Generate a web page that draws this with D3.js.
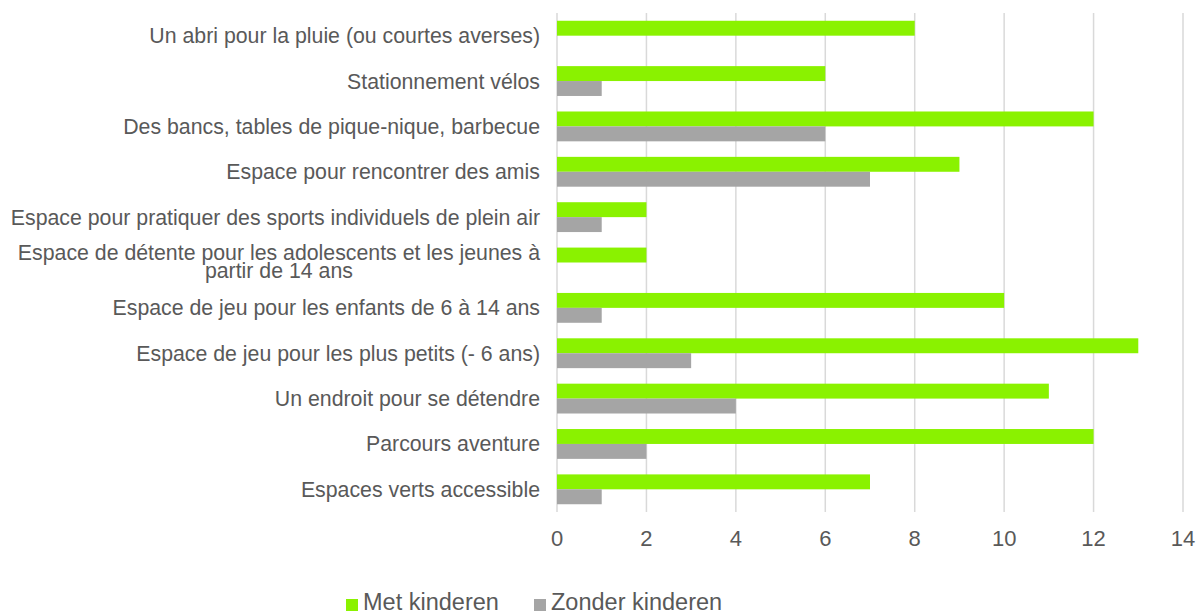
<!DOCTYPE html>
<html>
<head>
<meta charset="utf-8">
<script src="https://cdn.jsdelivr.net/npm/d3@7"></script>
<style>
  body { margin: 0; background: #fff; }
  svg { font-family: "Liberation Sans", Arial, sans-serif; }
</style>
</head>
<body>
<div id="chart"></div>
<script>
const categories = [
  'Un abri pour la pluie (ou courtes averses)',
  'Stationnement vélos',
  'Des bancs, tables de pique-nique, barbecue',
  'Espace pour rencontrer des amis',
  'Espace pour pratiquer des sports individuels de plein air',
  'Espace de détente pour les adolescents et les jeunes à|partir de 14 ans',
  'Espace de jeu pour les enfants de 6 à 14 ans',
  'Espace de jeu pour les plus petits (- 6 ans)',
  'Un endroit pour se détendre',
  'Parcours aventure',
  'Espaces verts accessible'
]
const metKinderen = [8, 6, 12, 9, 2, 2, 10, 13, 11, 12, 7]
const zonderKinderen = [0, 1, 6, 7, 1, 0, 1, 3, 4, 2, 1]
const seriesNames = ['Met kinderen', 'Zonder kinderen']
const colors = ['#8af200', '#a5a5a5']
const xTicks = [0, 2, 4, 6, 8, 10, 12, 14]

const width = 1198, height = 615
const margin = { top: 13, right: 15, bottom: 105, left: 557 }
const textColor = '#595959'

const svg = d3.select('#chart').append('svg')
    .attr('width', width)
    .attr('height', height)

const x = d3.scaleLinear()
    .domain([0, 14])
    .range([margin.left, 1183])

const y = d3.scaleBand()
    .domain(categories)
    .range([margin.top, height - margin.bottom + 2])
    .paddingInner(0)
    .paddingOuter(0)

const sub = d3.scaleBand()
    .domain(seriesNames)
    .range([0, y.bandwidth()])
    .paddingInner(0)
    .paddingOuter(0.52)

// gridlines
svg.append('g')
  .selectAll('line')
    .data(xTicks)
  .enter().append('line')
    .attr('x1', d => x(d))
    .attr('x2', d => x(d))
    .attr('y1', y.range()[0])
    .attr('y2', y.range()[1])
    .attr('stroke', '#d9d9d9')
    .attr('stroke-width', 1.5)

// tick labels
svg.append('g')
  .selectAll('text')
    .data(xTicks)
  .enter().append('text')
    .attr('x', d => x(d))
    .attr('y', 546)
    .attr('text-anchor', 'middle')
    .style('font-size', '22px')
    .style('fill', textColor)
    .text(d => d)

// bars
const series = [metKinderen, zonderKinderen]
series.forEach((vals, si) => {
  svg.append('g')
    .selectAll('rect')
      .data(vals)
    .enter().append('rect')
      .attr('x', x(0))
      .attr('y', (d, i) => y(categories[i]) + sub(seriesNames[si]))
      .attr('width', d => x(d) - x(0))
      .attr('height', sub.bandwidth())
      .attr('fill', colors[si])
})

// category labels
const labels = svg.append('g')
  .selectAll('text')
    .data(categories)
  .enter().append('text')
    .attr('y', d => y(d) + y.bandwidth() / 2)
    .style('font-size', '21.3px')
    .style('fill', textColor)

labels.each(function(d) {
  const lines = d.split('|')
  const t = d3.select(this)
  if (lines.length === 1) {
    t.attr('x', 540).attr('text-anchor', 'end').attr('dy', '0.35em').text(d)
    return
  }
  // wrapped label: block right-aligned, lines centred on each other
  const spans = lines.map(l => t.append('tspan').text(l))
  const maxW = d3.max(spans, s => s.node().getComputedTextLength())
  const cx = 540 - maxW / 2
  t.attr('text-anchor', 'middle')
  spans.forEach((s, i) => {
    s.attr('x', cx)
     .attr('dy', i === 0 ? -2.6 : 18)
  })
})

// legend
const legend = svg.append('g')
  .selectAll('g')
    .data(seriesNames)
  .enter().append('g')
    .attr('transform', (d, i) => 'translate(' + [346 + i * 188, 599] + ')')

legend.append('rect')
    .attr('width', 12)
    .attr('height', 12)
    .attr('fill', (d, i) => colors[i])

legend.append('text')
    .attr('x', 17)
    .attr('y', 11)
    .style('font-size', '23.5px')
    .style('fill', textColor)
    .text(d => d)
</script>
</body>
</html>
